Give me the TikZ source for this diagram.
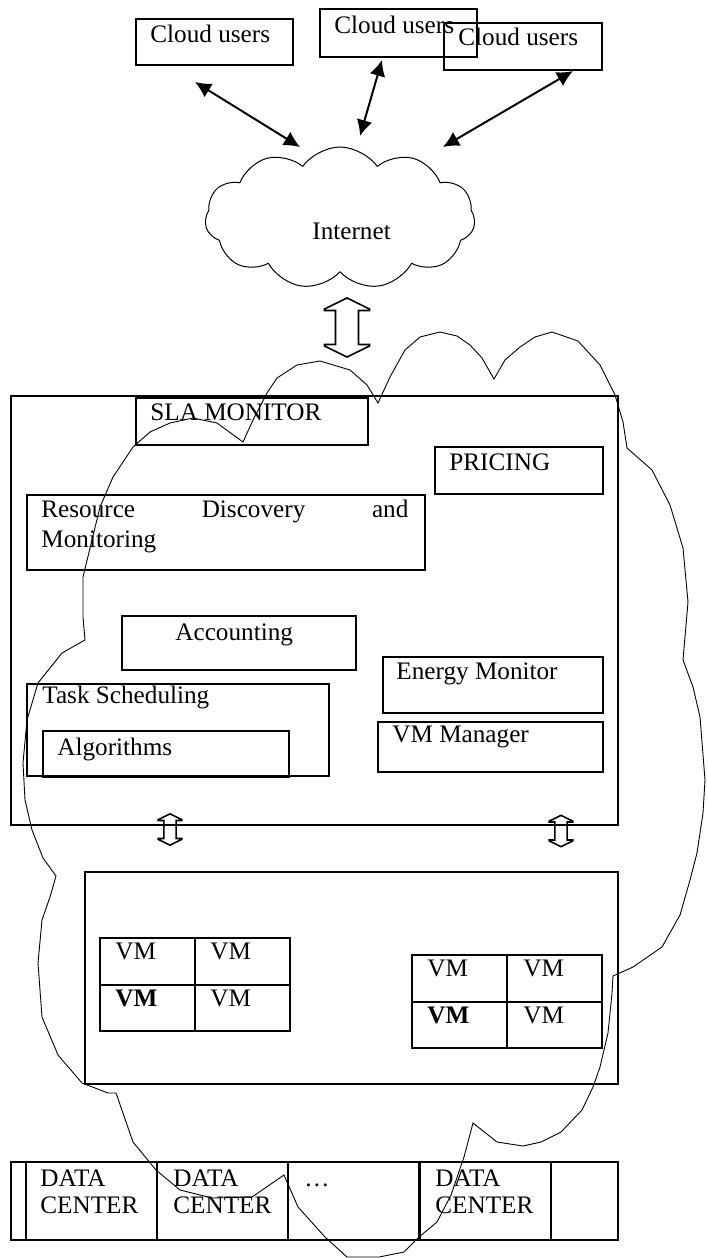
\documentclass[tikz,border=0pt]{standalone}
\usepackage{fontspec}
\setmainfont{Liberation Serif}
\usetikzlibrary{shapes.symbols,arrows.meta}

\tikzset{
  box/.style={draw, line width=1pt, anchor=north west, inner sep=0pt},
  cell/.style={box, minimum width=47.5pt, minimum height=23.25pt},
  dcell/.style={box, minimum width=65.5pt, minimum height=39pt},
  txt/.style={anchor=base west, inner sep=0pt, font=\fontsize{12.6}{15}\selectfont},
  link/.style={line width=1pt, {Latex[length=8pt,width=8pt]}-{Latex[length=8pt,width=8pt]}},
  freeform/.style={line width=0.45pt},
  blockarrow/.style={line width=0.8pt, line join=miter},
  updown/.pic={
    \draw[blockarrow] (0,-29.5) -- (22.5,-18.5) -- (22.5,-17) -- (11.5,-17) -- (11.5,17)
      -- (22.5,17) -- (22.5,18.5) -- (0,29.5) -- (-22.5,18.5) -- (-22.5,17) -- (-11.5,17)
      -- (-11.5,-17) -- (-22.5,-17) -- (-22.5,-18.5) -- cycle;
  }
}

\begin{document}
\begin{tikzpicture}[x=0.5pt,y=-0.5pt]
\useasboundingbox (0,0) rectangle (707,1258);

% Cloud users
\node[box, minimum width=78.5pt, minimum height=23pt] (u1) at (135,18) {};
\node[box, minimum width=78.5pt, minimum height=24pt] (u2) at (319,8) {};
\node[box, minimum width=79pt, minimum height=23.5pt] (u3) at (443,22) {};
\node[txt] (tu1) at (150,42) {Cloud users};
\node[txt] (tu2) at (334,33) {Cloud users};
\node[txt] (tu3) at (458,46) {Cloud users};

% Internet
\node[cloud, draw, line width=0.5pt, cloud puffs=11, cloud puff arc=110, aspect=1.9,
  minimum width=135pt, minimum height=71pt, inner sep=0pt] (net) at (340,218) {};
\node[txt] (tnet) at (312,239) {Internet};

% Verbindungen
\coordinate (a1) at (195,82);  \coordinate (b1) at (300,147);
\coordinate (a2) at (382,60);  \coordinate (b2) at (360,136);
\coordinate (a3) at (573,71);  \coordinate (b3) at (443,147);
\draw[link] (a1) -- (b1);
\draw[link] (a2) -- (b2);
\draw[link] (a3) -- (b3);

% Doppelpfeile
\coordinate (p0) at (347,327.5);
\coordinate (p1) at (170,829.5);
\coordinate (p2) at (561,831);
\pic at (p0) {updown};
\pic[scale=0.53] at (p1) {updown};
\pic[scale=0.53] at (p2) {updown};

% Broker
\node[box, minimum width=303.5pt, minimum height=214.5pt] (broker) at (10,395) {};
\node[box, minimum width=116pt, minimum height=23.5pt] (sla) at (135,397) {};
\node[txt] (tsla) at (150,420) {SLA MONITOR};
\node[box, minimum width=84pt, minimum height=23.5pt] (price) at (434,446) {};
\node[txt] (tprice) at (449,470) {PRICING};
\node[box, minimum width=199pt, minimum height=37.5pt] (res) at (26,494) {};
\node[txt, text width=183.5pt, align=left, font=\fontsize{12.6}{15}\selectfont] (tres) at (41,517)
  {Resource\hfill Discovery\hfill and\\Monitoring};
\node[box, minimum width=117pt, minimum height=27pt] (acc) at (121,615) {};
\node[txt] (tacc) at (175,640) {Accounting};
\node[box, minimum width=151pt, minimum height=46pt] (task) at (26,683) {};
\node[txt] (ttask) at (42,703) {Task Scheduling};
\node[box, minimum width=123pt, minimum height=23pt] (alg) at (42,730) {};
\node[txt] (talg) at (57,755) {Algorithms};
\node[box, minimum width=110pt, minimum height=28pt] (energy) at (382,656) {};
\node[txt] (tenergy) at (396,679) {Energy Monitor};
\node[box, minimum width=112.5pt, minimum height=25pt] (vmm) at (377,721) {};
\node[txt] (tvmm) at (392,742) {VM Manager};

% Hosts
\node[box, minimum width=266.5pt, minimum height=106pt] (host) at (84,871) {};
\node[cell] (l11) at (99,937) {};
\node[cell] (l12) at (194,937) {};
\node[cell] (l21) at (99,983.5) {};
\node[cell] (l22) at (194,983.5) {};
\node[txt] at (115,959) {VM};
\node[txt] at (210,959) {VM};
\node[txt] at (115,1006) {\textbf{VM}};
\node[txt] at (210,1006) {VM};
\node[cell] (r11) at (411,954) {};
\node[cell] (r12) at (506,954) {};
\node[cell] (r21) at (411,1000.5) {};
\node[cell] (r22) at (506,1000.5) {};
\node[txt] at (427,976) {VM};
\node[txt] at (523,976) {VM};
\node[txt] at (427,1023) {\textbf{VM}};
\node[txt] at (523,1023) {VM};

% Rechenzentren
\node[box, minimum width=303.5pt, minimum height=39pt] (dcrow) at (10,1161) {};
\node[dcell] (dc1) at (25,1161) {};
\node[dcell] (dc2) at (156,1161) {};
\node[dcell] (dc3) at (287,1161) {};
\node[dcell] (dc4) at (419,1161) {};
\node[txt, align=left, font=\fontsize{12.6}{13.5}\selectfont] (tdc1) at (40,1213) {DATA\\CENTER};
\node[txt, align=left, font=\fontsize{12.6}{13.5}\selectfont] (tdc2) at (173,1213) {DATA\\CENTER};
\node[txt] (tdc3) at (304,1186) {\ldots};
\node[txt, align=left, font=\fontsize{12.6}{13.5}\selectfont] (tdc4) at (435,1213) {DATA\\CENTER};

% Wolke
\draw[freeform] (133,447) -- (150,432) -- (170,423) -- (193,418) -- (217,423) -- (243,442)
  -- (253,420) -- (267,393) -- (277,378) -- (297,365) -- (320,361) -- (350,370) -- (367,385)
  -- (378,403) -- (390,377) -- (405,350) -- (420,337) -- (440,332) -- (457,336) -- (470,345)
  -- (482,358) -- (494,379) -- (505,360) -- (520,347) -- (535,337) -- (552,332) -- (578,341)
  -- (600,365) -- (615,395) -- (623,422) -- (627,448) -- (652,470) -- (670,505) -- (683,548)
  -- (688,602) -- (683,660) -- (693,687) -- (700,717) -- (705,780) -- (703,813) -- (697,853)
  -- (690,880) -- (680,915) -- (662,947) -- (633,967) -- (613,976) -- (612,993) -- (608,1033)
  -- (600,1067) -- (593,1087) -- (582,1110) -- (561,1132) -- (541,1142) -- (523,1146)
  -- (497,1142) -- (473,1123) -- (464,1157) -- (451,1195) -- (437,1222) -- (419,1237)
  -- (404,1252) -- (379,1257) -- (347,1257) -- (325,1237) -- (298,1207) -- (284,1175)
  -- (252,1197) -- (212,1198) -- (180,1190) -- (156,1170) -- (133,1142) -- (116,1093)
  -- (108,1093) -- (82,1083) -- (58,1055) -- (42,1017) -- (38,963) -- (42,920) -- (50,897)
  -- (56,876) -- (43,858) -- (32,830) -- (25,800) -- (23,763) -- (27,720) -- (38,683)
  -- (62,653) -- (85,640) -- (83,617) -- (83,577) -- (92,540) -- (100,507) -- (113,477)
  -- cycle;
\end{tikzpicture}
\end{document}
